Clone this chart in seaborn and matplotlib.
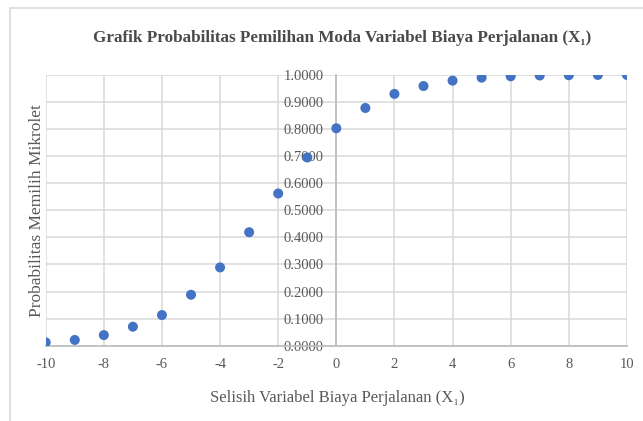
import matplotlib
matplotlib.use("Agg")
import matplotlib.pyplot as plt
from matplotlib.lines import Line2D
import seaborn as sns
import pandas as pd

# Difference in travel cost (X1) and probability of choosing the mikrolet
selisih_biaya = [-10, -9, -8, -7, -6, -5, -4, -3, -2, -1, 0,
                 1, 2, 3, 4, 5, 6, 7, 8, 9, 10]
probabilitas = [0.012, 0.021, 0.039, 0.070, 0.113, 0.188, 0.289, 0.419,
                0.562, 0.695, 0.803, 0.878, 0.930, 0.959, 0.979, 0.990,
                0.995, 0.998, 0.999, 1.000, 1.000]

x_ticks = [-10, -8, -6, -4, -2, 0, 2, 4, 6, 8, 10]
y_ticks = [0.0, 0.1, 0.2, 0.3, 0.4, 0.5, 0.6, 0.7, 0.8, 0.9, 1.0]

judul = "Grafik Probabilitas Pemilihan Moda Variabel Biaya Perjalanan (X\u2081)"
label_x = "Selisih Variabel Biaya Perjalanan (X\u2081)"
label_y = "Probabilitas Memilih Mikrolet"

df = pd.DataFrame({"x": selisih_biaya, "p": probabilitas})

sns.set_theme(style="white")
plt.rcParams["font.family"] = ["Liberation Serif", "DejaVu Serif"]

text_gray = "#595959"
title_gray = "#4a4a4a"
grid_gray = "#d9d9d9"
axis_gray = "#bfbfbf"

fig = plt.figure(figsize=(6.43, 4.21), dpi=100)
ax = fig.add_axes([0.0711, 0.179, 0.975 - 0.0711, 0.822 - 0.179])

sns.scatterplot(data=df, x="x", y="p", ax=ax, color="#4472C4",
                s=52, edgecolor="none", zorder=3, legend=False)

ax.set_xlim(-10, 10)
ax.set_ylim(0, 1.0)
ax.set_xticks(x_ticks)
ax.set_yticks(y_ticks)
ax.set_xticklabels([f"{t}" for t in x_ticks])
ax.set_yticklabels([f"{t:.4f}" for t in y_ticks])

ax.grid(True, color=grid_gray, linewidth=1.1, zorder=0)
ax.set_axisbelow(True)

for side in ["top", "right"]:
    ax.spines[side].set_visible(False)
ax.spines["left"].set_position(("data", 0))
ax.spines["left"].set_color(axis_gray)
ax.spines["left"].set_linewidth(1.3)
ax.spines["bottom"].set_color(axis_gray)
ax.spines["bottom"].set_linewidth(1.3)

ax.tick_params(axis="both", length=0, labelsize=10.5, labelcolor=text_gray)
ax.tick_params(axis="y", pad=9)
ax.tick_params(axis="x", pad=9)

ax.set_xlabel("")
ax.set_ylabel("")

fig.text(0.532, 0.91, judul, ha="center", va="center", fontsize=12.3,
         fontweight="bold", color=title_gray)
fig.text(0.524, 0.055, label_x, ha="center", va="center", fontsize=12,
         color=text_gray)
fig.text(0.058, 0.50, label_y, ha="center", va="center", fontsize=12.5,
         rotation=90, color=text_gray)

# chart-area frame (top and left edges)
fig.add_artist(Line2D([0.016, 1.0], [0.981, 0.981], transform=fig.transFigure,
                      color=grid_gray, linewidth=1.2))
fig.add_artist(Line2D([0.016, 0.016], [0.0, 0.981], transform=fig.transFigure,
                      color=grid_gray, linewidth=1.2))

fig.savefig("out.png", dpi=100, facecolor="white")
